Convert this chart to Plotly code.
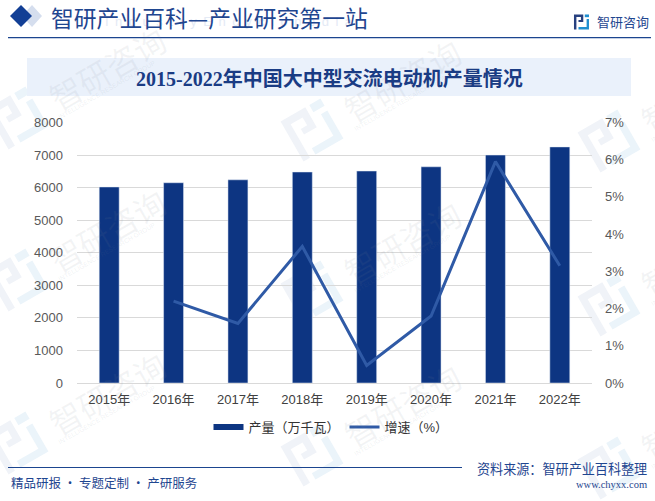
import math
import plotly.graph_objects as go

W, H = 655, 501

years = ["2015年", "2016年", "2017年", "2018年", "2019年", "2020年", "2021年", "2022年"]
output = [6020, 6150, 6240, 6480, 6510, 6640, 7000, 7250]
growth = [None, 2.2, 1.6, 3.67, 0.47, 1.8, 5.95, 3.15]

bar_name = "产量\uff08万千瓦\uff09"
line_name = "增速\uff08%\uff09"
title_text = "2015-2022年中国大中型交流电动机产量情况"

navy = "#0D3582"
line_blue = "#2F5AA6"
head_blue = "#1F4690"
cjk = "Noto Sans CJK SC"
sans = "Liberation Sans, " + cjk
serif = "Liberation Serif, " + cjk


# helpers: everything decorative is placed in window pixels
def px(x):
    return x / W


def py(y):
    return 1 - y / H


def poly(points, color, layer="below"):
    path = "M" + "L".join(f"{px(x):.4f},{py(y):.4f}" for x, y in points) + "Z"
    return dict(type="path", xref="paper", yref="paper", path=path, fillcolor=color,
                line_width=0, layer=layer)


def rect(x0, y0, x1, y1, color, layer="below"):
    return dict(type="rect", xref="paper", yref="paper", x0=px(x0), x1=px(x1),
                y0=py(y0), y1=py(y1), fillcolor=color, line_width=0, layer=layer)


def text(x, y, s, size, color, family=cjk, anchor="left", angle=0):
    return dict(xref="paper", yref="paper", x=px(x), y=py(y), text=s, showarrow=False,
                xanchor=anchor, yanchor="middle", textangle=angle,
                font=dict(size=size, color=color, family=family))


# the company mark, built from three pieces in a unit square
logo_a = [(0, 0), (.62, 0), (.62, .5), (.3, .5), (.3, .36), (.46, .36), (.46, .16), (.16, .16),
          (.16, 1), (0, 1)]
logo_b = [(.3, .84), (.84, .84), (.84, .3), (1, .3), (1, 1), (.3, 1)]
logo_c = [(.72, 0), (1, 0), (1, .18), (.72, .18)]


def logo(cx, cy, size, colors, angle=0, layer="below"):
    a = math.radians(angle)
    out = []
    for piece, color in zip((logo_a, logo_b, logo_c), colors):
        pts = []
        for u, v in piece:
            dx, dy = (u - .5) * size, (v - .5) * size
            pts.append((cx + dx * math.cos(a) + dy * math.sin(a),
                        cy - dx * math.sin(a) + dy * math.cos(a)))
        out.append(poly(pts, color, layer))
    return out


shapes = []
annotations = []

# watermark tiles, each column sits a little lower than the one before
tiles = [(17, (118, 280, 443)), (312, (130, 292, 455)), (609, (141, 305, 468))]
for lx, rows in tiles:
    for ly in rows:
        shapes += logo(lx, ly, 46, ("#F0F3F8", "#EBF4FA", "#EBF4FA"), angle=30)
        annotations.append(text(lx + 90, ly - 50, "智研咨询", 32, "rgba(120,130,145,0.09)",
                                anchor="center", angle=-30))
        annotations.append(text(lx + 90, ly - 29, "INTELLIGENCE RESEARCH GROUP", 6.5,
                                "rgba(120,130,145,0.12)", family=sans, anchor="center", angle=-30))

# header
shapes.append(poly([(32, 5), (42, 16), (32, 27), (22, 16)], "#D5DEEE"))
shapes.append(poly([(21, 5), (32, 16), (21, 27), (10, 16)], "#123F95"))
shapes.append(rect(8, 37, 651, 38.2, "#1B458F"))
annotations.append(text(103, 21, "\u2002".join("IndustryEncyclopedia"), 13, "#E4EAF5",
                        family="Liberation Sans"))
annotations.append(text(49, 18, "智研产业百科—产业研究第一站", 22.8, head_blue))
shapes += logo(581.5, 22, 15, ("#27407F", "#1F8FD0", "#1F8FD0"), layer="above")
annotations.append(text(595, 21, "智研咨询", 13, head_blue))

# title band
shapes.append(rect(27, 58, 631, 96, "#EAF1FB"))
annotations.append(text(329, 78.5, "<b>" + title_text + "</b>", 20, "#1A3C84", family=serif,
                        anchor="center"))

# footer
shapes.append(rect(8, 467, 462, 468, "#1B458F"))
annotations.append(text(9, 482, "精品研报 · 专题定制 · 产研服务", 12.5, head_blue))
annotations.append(text(649, 468, "资料来源\uff1a智研产业百科整理", 13.1, head_blue, anchor="right"))
annotations.append(text(649, 484, "www.chyxx.com", 10.5, head_blue, family="Liberation Serif",
                        anchor="right"))

fig = go.Figure()
fig.add_trace(go.Bar(x=years, y=output, name=bar_name, marker_color=navy, width=0.31,
                     showlegend=False, legendgroup="bar"))
# wide flat swatch for the bars in the legend
fig.add_trace(go.Scatter(x=[None], y=[None], mode="lines", name=bar_name, legendgroup="bar",
                         line=dict(color=navy, width=6)))
fig.add_trace(go.Scatter(x=years, y=growth, mode="lines", name=line_name, yaxis="y2",
                         line=dict(color=line_blue, width=3)))

fig.update_layout(
    width=W,
    height=H,
    margin=dict(l=0, r=0, t=0, b=0, autoexpand=False),
    paper_bgcolor="white",
    plot_bgcolor="rgba(0,0,0,0)",
    shapes=shapes,
    annotations=annotations,
    showlegend=True,
    legend=dict(orientation="h", x=px(331), y=py(427), xanchor="center", yanchor="middle",
                font=dict(size=13, color="#333333", family=sans), itemwidth=30,
                bgcolor="rgba(0,0,0,0)"),
    xaxis=dict(domain=[px(77), px(592)], showgrid=False, showline=True, linecolor="#D9D9D9",
               ticks="", tickfont=dict(size=13, color="#404040", family=sans),
               ticklabelstandoff=4),
    yaxis=dict(range=[0, 8000], dtick=1000, domain=[py(383), py(122.5)], gridcolor="#D9D9D9",
               gridwidth=1, zeroline=False, ticks="", ticklabelstandoff=13,
               tickfont=dict(size=13, color="#595959", family=sans)),
    yaxis2=dict(range=[0, 7], dtick=1, overlaying="y", side="right", showgrid=False,
                zeroline=False, ticks="", ticksuffix="%", ticklabelstandoff=12,
                tickfont=dict(size=13, color="#595959", family=sans)),
)

fig.write_html("out.html", config=dict(displayModeBar=False),
               post_script="document.body.style.margin='0';")
